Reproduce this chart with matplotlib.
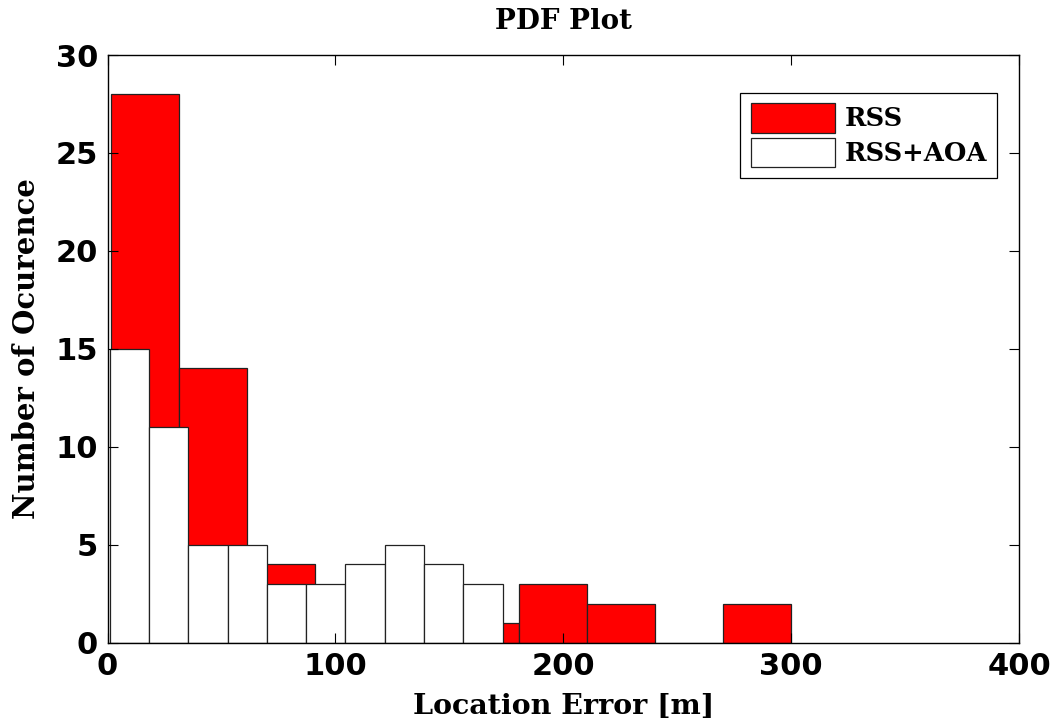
import numpy as np
import matplotlib
matplotlib.use("Agg")
import matplotlib.pyplot as plt

# histogram counts
rss_edges = np.linspace(1.3, 300.1, 11)
rss_counts = [28, 14, 4, 2, 2, 1, 3, 2, 0, 2]
aoa_edges = np.linspace(1.0, 173.3, 11)
aoa_counts = [15, 11, 5, 5, 3, 3, 4, 5, 4, 3]

xticks = [0, 100, 200, 300, 400]
yticks = [0, 5, 10, 15, 20, 25, 30]

serif = {"family": "DejaVu Serif", "weight": "bold"}

fig = plt.figure(figsize=(10.55, 7.24), dpi=100)
ax = fig.add_axes([0.102, 0.1123, 0.864, 0.8117])

ax.bar(rss_edges[:-1], rss_counts, width=np.diff(rss_edges), align="edge",
       color="#ff0000", edgecolor="#222222", linewidth=0.9, label="RSS")
ax.bar(aoa_edges[:-1], aoa_counts, width=np.diff(aoa_edges), align="edge",
       color="white", edgecolor="#222222", linewidth=0.9, label="RSS+AOA")

ax.set_xlim(0, 400)
ax.set_ylim(0, 30)
ax.set_xticks(xticks)
ax.set_yticks(yticks)
ax.tick_params(direction="in", top=True, right=True, length=7, width=0.8,
               labelsize=22, pad=7)
for lab in ax.get_xticklabels() + ax.get_yticklabels():
    lab.set_fontweight("bold")
for s in ax.spines.values():
    s.set_linewidth(1.0)

ax.set_title("PDF Plot", fontsize=20, pad=19, **serif)
ax.set_xlabel("Location Error [m]", fontsize=20.5, labelpad=8, **serif)
ax.set_ylabel("Number of Ocurence", fontsize=21, labelpad=10, **serif)

leg = ax.legend(loc="upper right", bbox_to_anchor=(0.976, 0.936),
                prop={"family": "DejaVu Serif", "weight": "bold", "size": 18.5},
                handlelength=3.3, handleheight=1.4, fancybox=False,
                framealpha=1, edgecolor="black", borderpad=0.4,
                labelspacing=0.2, handletextpad=0.35, borderaxespad=0)
leg.get_frame().set_linewidth(0.9)

fig.savefig("out.png", dpi=100)
